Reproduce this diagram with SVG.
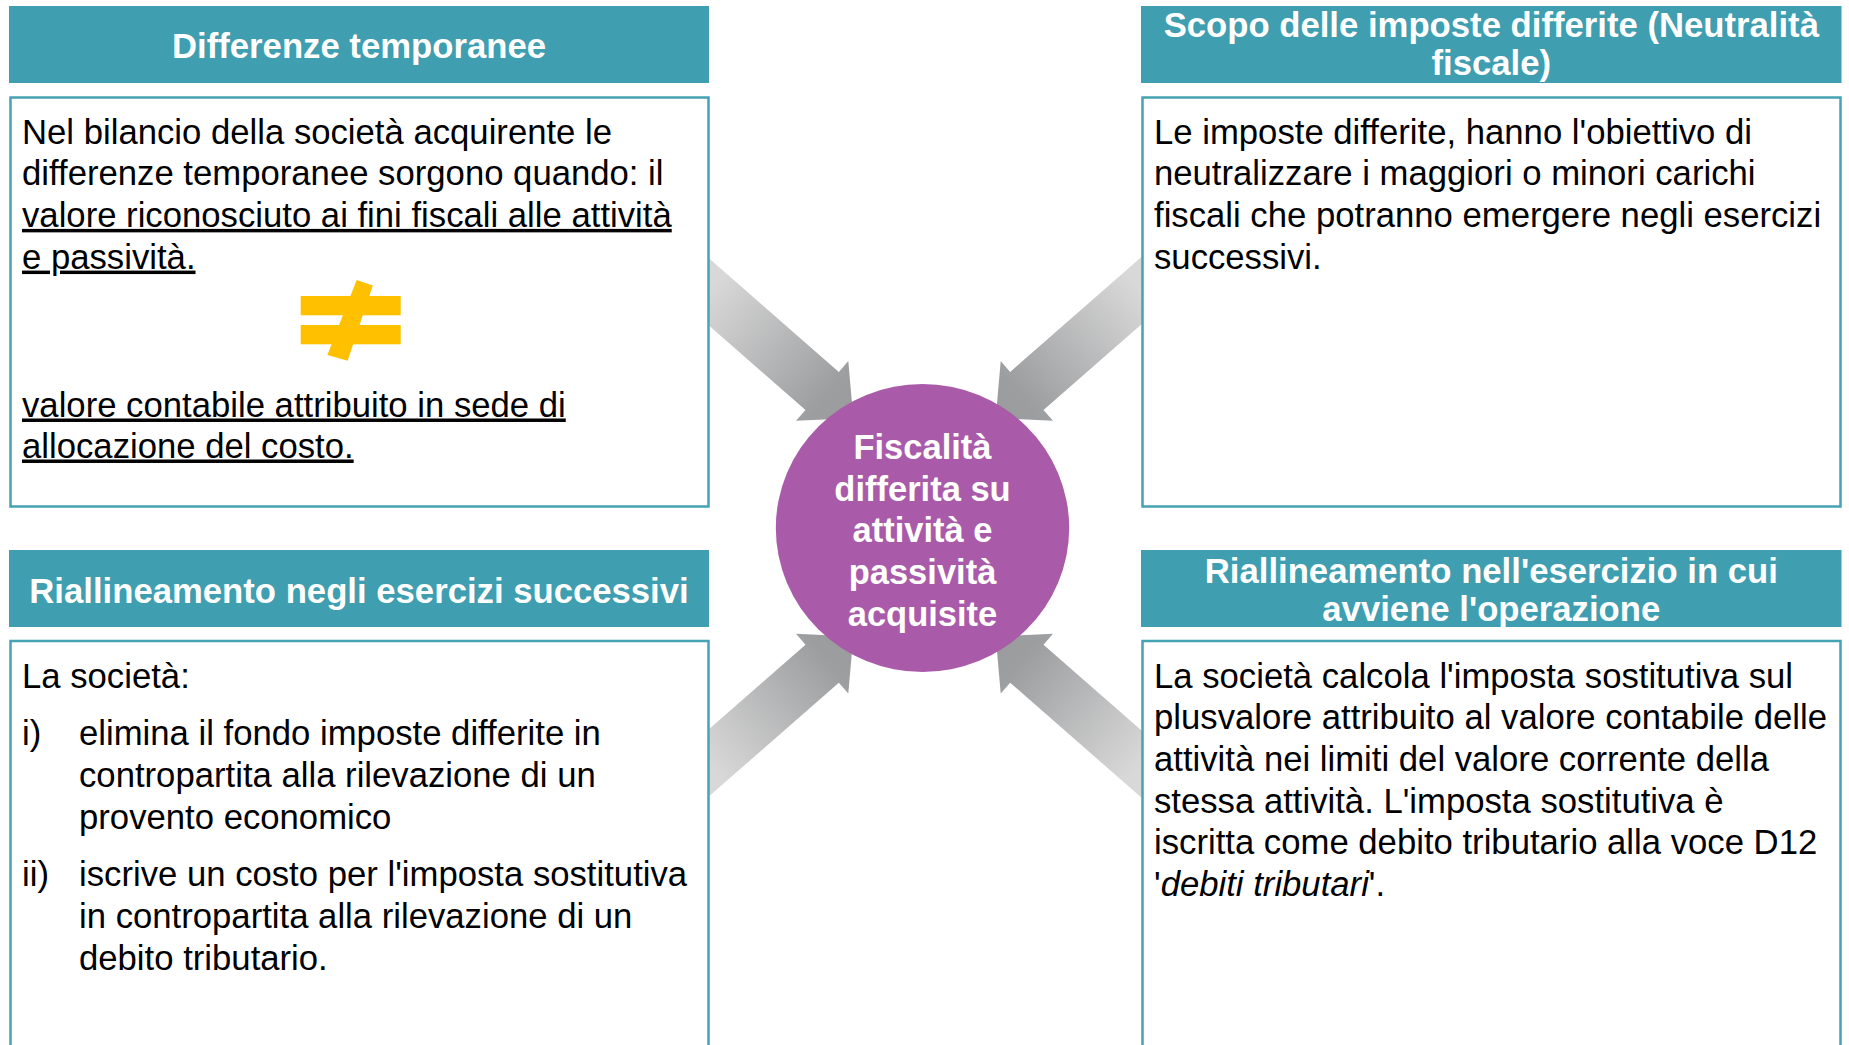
<svg xmlns="http://www.w3.org/2000/svg" width="1849" height="1045" viewBox="0 0 1849 1045">
<style>
.hdr{fill:#3F9EAF}
.body{fill:#FFFFFF;stroke:#45A3B3;stroke-width:2.5}
.ht{font-family:"Liberation Sans",Arial,sans-serif;font-weight:bold;font-size:34.7px;fill:#FFFFFF;text-anchor:middle}
.bt{font-family:"Liberation Sans",Arial,sans-serif;font-size:34.7px;fill:#000000}
.ct{font-family:"Liberation Sans",Arial,sans-serif;font-weight:bold;font-size:34.5px;fill:#FFFFFF;text-anchor:middle}
.u{text-decoration:underline}
</style>
<defs>
<linearGradient id="ag" x1="0" y1="0" x2="1" y2="0">
<stop offset="0.2" stop-color="#D8D8D8"/>
<stop offset="0.85" stop-color="#9D9EA0"/>
<stop offset="1" stop-color="#9A9B9D"/>
</linearGradient>
<polygon id="arrow" points="0,0 -41.4,-39.7 -41.4,-25.3 -240,-25.3 -240,25.3 -41.4,25.3 -41.4,39.7" fill="url(#ag)"/>
</defs>

<g id="connectors">
<g transform="translate(853.3,418.2) rotate(41.2)"><use href="#arrow"/></g>
<g transform="matrix(-1 0 0 1 1849 0)"><g transform="translate(853.3,418.2) rotate(41.2)"><use href="#arrow"/></g></g>
<g transform="matrix(1 0 0 -1 0 1054.6)"><g transform="translate(853.3,418.2) rotate(41.2)"><use href="#arrow"/></g></g>
<g transform="matrix(-1 0 0 -1 1849 1054.6)"><g transform="translate(853.3,418.2) rotate(41.2)"><use href="#arrow"/></g></g>
</g>

<g id="node-differenze">
<rect class="hdr" x="9" y="6" width="700" height="77"/>
<text class="ht" x="359" y="58.2">Differenze temporanee</text>
<rect class="body" x="10.5" y="97.5" width="698" height="409"/>
<text class="bt" x="22" y="143.5">Nel bilancio della società acquirente le</text>
<text class="bt" x="22" y="185.2">differenze temporanee sorgono quando: il</text>
<text class="bt u" x="22" y="226.9">valore riconosciuto ai fini fiscali alle attività</text>
<text class="bt u" x="22" y="268.6">e passività.</text>
<g fill="#FFC000">
<rect x="300.7" y="296" width="100" height="19.3"/>
<rect x="300.7" y="325" width="100" height="19.3"/>
<polygon points="356.7,280 372.8,285.5 347.6,360.7 327.4,355"/>
</g>
<text class="bt u" x="22" y="416.5">valore contabile attribuito in sede di</text>
<text class="bt u" x="22" y="457.5">allocazione del costo.</text>
</g>

<g id="node-scopo">
<rect class="hdr" x="1141" y="6" width="700.5" height="77"/>
<text class="ht" x="1491.3" y="36.8">Scopo delle imposte differite (Neutralità</text>
<text class="ht" x="1491.3" y="74.5">fiscale)</text>
<rect class="body" x="1142.5" y="97.5" width="698" height="409"/>
<text class="bt" x="1154" y="143.5">Le imposte differite, hanno l'obiettivo di</text>
<text class="bt" x="1154" y="185.2">neutralizzare i maggiori o minori carichi</text>
<text class="bt" x="1154" y="226.9">fiscali che potranno emergere negli esercizi</text>
<text class="bt" x="1154" y="268.6">successivi.</text>
</g>

<g id="node-riallineamento-successivi">
<rect class="hdr" x="9" y="550" width="700" height="77"/>
<text class="ht" x="359" y="602.5">Riallineamento negli esercizi successivi</text>
<rect class="body" x="10.5" y="641" width="698" height="420"/>
<text class="bt" x="22" y="687.7">La società:</text>
<text class="bt" x="22" y="745">i)</text>
<text class="bt" x="79" y="745">elimina il fondo imposte differite in</text>
<text class="bt" x="79" y="787">contropartita alla rilevazione di un</text>
<text class="bt" x="79" y="829">provento economico</text>
<text class="bt" x="22" y="886">ii)</text>
<text class="bt" x="79" y="886">iscrive un costo per l'imposta sostitutiva</text>
<text class="bt" x="79" y="928">in contropartita alla rilevazione di un</text>
<text class="bt" x="79" y="969.5">debito tributario.</text>
</g>

<g id="node-riallineamento-esercizio">
<rect class="hdr" x="1141" y="550" width="700.5" height="77"/>
<text class="ht" x="1491.3" y="583">Riallineamento nell'esercizio in cui</text>
<text class="ht" x="1491.3" y="620.6">avviene l'operazione</text>
<rect class="body" x="1142.5" y="641" width="698" height="420"/>
<text class="bt" x="1154" y="687.7">La società calcola l'imposta sostitutiva sul</text>
<text class="bt" x="1154" y="729.3">plusvalore attribuito al valore contabile delle</text>
<text class="bt" x="1154" y="770.9">attività nei limiti del valore corrente della</text>
<text class="bt" x="1154" y="812.5">stessa attività. L'imposta sostitutiva è</text>
<text class="bt" x="1154" y="854.1">iscritta come debito tributario alla voce D12</text>
<text class="bt" x="1154" y="895.7">'<tspan font-style="italic">debiti tributari</tspan>'.</text>
</g>

<g id="node-center">
<ellipse cx="922.5" cy="528" rx="146.7" ry="144" fill="#A95BAA"/>
<text class="ct" x="922.5" y="459.3">Fiscalità</text>
<text class="ct" x="922.5" y="500.8">differita su</text>
<text class="ct" x="922.5" y="542.4">attività e</text>
<text class="ct" x="922.5" y="584.2">passività</text>
<text class="ct" x="922.5" y="626">acquisite</text>
</g>
</svg>
